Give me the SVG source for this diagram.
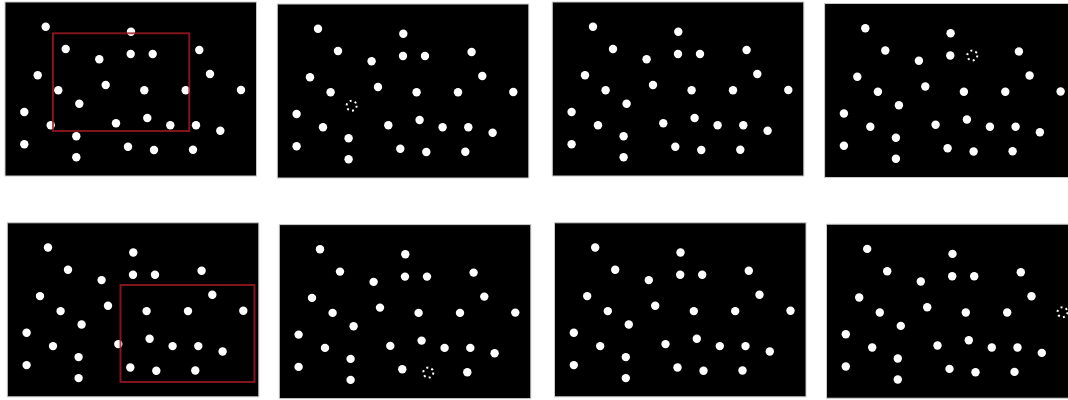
<svg xmlns="http://www.w3.org/2000/svg" xmlns:xlink="http://www.w3.org/1999/xlink" width="1068" height="400" viewBox="0 0 1068 400">
<style>
.bg{fill:#000;stroke:#c8c8c8;stroke-width:1}
.d{fill:#fff}
.ring{fill:none;stroke:#fff;stroke-width:2;stroke-dasharray:2 3.24}
.roi{fill:none;stroke:#a31a22;stroke-width:2;stroke-opacity:0.8}
</style>
<defs>
<rect id="bg" class="bg" x="5" y="2" width="251.5" height="174"/>
<g id="common">
<circle class="d" cx="45.7" cy="26.7" r="4.2"/>
<circle class="d" cx="131" cy="31.7" r="4.2"/>
<circle class="d" cx="65.7" cy="49" r="4.2"/>
<circle class="d" cx="99.3" cy="59.3" r="4.2"/>
<circle class="d" cx="130.7" cy="54" r="4.2"/>
<circle class="d" cx="199.3" cy="50" r="4.2"/>
<circle class="d" cx="37.7" cy="75.3" r="4.2"/>
<circle class="d" cx="210" cy="74" r="4.2"/>
<circle class="d" cx="58.3" cy="90.3" r="4.2"/>
<circle class="d" cx="105.7" cy="85" r="4.2"/>
<circle class="d" cx="144.3" cy="90.3" r="4.2"/>
<circle class="d" cx="185.7" cy="90.3" r="4.2"/>
<circle class="d" cx="24.3" cy="112" r="4.2"/>
<circle class="d" cx="50.7" cy="125.3" r="4.2"/>
<circle class="d" cx="116" cy="123.3" r="4.2"/>
<circle class="d" cx="147.3" cy="118" r="4.2"/>
<circle class="d" cx="170.3" cy="125.3" r="4.2"/>
<circle class="d" cx="196" cy="125.3" r="4.2"/>
<circle class="d" cx="220.3" cy="130.7" r="4.2"/>
<circle class="d" cx="76.3" cy="136.3" r="4.2"/>
<circle class="d" cx="24.3" cy="144.3" r="4.2"/>
<circle class="d" cx="128" cy="146.7" r="4.2"/>
<circle class="d" cx="193" cy="149.7" r="4.2"/>
<circle class="d" cx="76.3" cy="157.3" r="4.2"/>
</g>
</defs>
<rect width="1068" height="400" fill="#fff"/>

<g id="panel1">
<use xlink:href="#bg"/>
<use xlink:href="#common"/>
<circle class="d" cx="152.7" cy="54" r="4.2"/>
<circle class="d" cx="241" cy="90" r="4.2"/>
<circle class="d" cx="79.3" cy="103.7" r="4.2"/>
<circle class="d" cx="154" cy="150" r="4.2"/>
<rect class="roi" x="53" y="33.3" width="136.3" height="97.7"/>
</g>

<g id="panel2" transform="translate(272.3,2)">
<use xlink:href="#bg"/>
<use xlink:href="#common"/>
<circle class="d" cx="152.7" cy="54" r="4.2"/>
<circle class="d" cx="241" cy="90" r="4.2"/>
<circle class="ring" cx="79.3" cy="103.7" r="5"/>
<circle class="d" cx="154" cy="150" r="4.2"/>
</g>

<g id="panel3" transform="translate(547.3,0)">
<use xlink:href="#bg"/>
<use xlink:href="#common"/>
<circle class="d" cx="152.7" cy="54" r="4.2"/>
<circle class="d" cx="241" cy="90" r="4.2"/>
<circle class="d" cx="79.3" cy="103.7" r="4.2"/>
<circle class="d" cx="154" cy="150" r="4.2"/>
</g>

<g id="panel4" transform="translate(819.6,1.5)">
<use xlink:href="#bg"/>
<use xlink:href="#common"/>
<circle class="ring" cx="152.7" cy="54" r="5"/>
<circle class="d" cx="241" cy="90" r="4.2"/>
<circle class="d" cx="79.3" cy="103.7" r="4.2"/>
<circle class="d" cx="154" cy="150" r="4.2"/>
</g>

<g id="panel5" transform="translate(2.3,220.8)">
<use xlink:href="#bg"/>
<use xlink:href="#common"/>
<circle class="d" cx="152.7" cy="54" r="4.2"/>
<circle class="d" cx="241" cy="90" r="4.2"/>
<circle class="d" cx="79.3" cy="103.7" r="4.2"/>
<circle class="d" cx="154" cy="150" r="4.2"/>
<rect class="roi" x="118.2" y="64.2" width="134" height="97"/>
</g>

<g id="panel6" transform="translate(274.3,222.6)">
<use xlink:href="#bg"/>
<use xlink:href="#common"/>
<circle class="d" cx="152.7" cy="54" r="4.2"/>
<circle class="d" cx="241" cy="90" r="4.2"/>
<circle class="d" cx="79.3" cy="103.7" r="4.2"/>
<circle class="ring" cx="154" cy="150" r="5"/>
</g>

<g id="panel7" transform="translate(549.5,220.8)">
<use xlink:href="#bg"/>
<use xlink:href="#common"/>
<circle class="d" cx="152.7" cy="54" r="4.2"/>
<circle class="d" cx="241" cy="90" r="4.2"/>
<circle class="d" cx="79.3" cy="103.7" r="4.2"/>
<circle class="d" cx="154" cy="150" r="4.2"/>
</g>

<g id="panel8" transform="translate(821.5,222.2)">
<use xlink:href="#bg"/>
<use xlink:href="#common"/>
<circle class="d" cx="152.7" cy="54" r="4.2"/>
<circle class="ring" cx="241" cy="90" r="5"/>
<circle class="d" cx="79.3" cy="103.7" r="4.2"/>
<circle class="d" cx="154" cy="150" r="4.2"/>
</g>
</svg>
